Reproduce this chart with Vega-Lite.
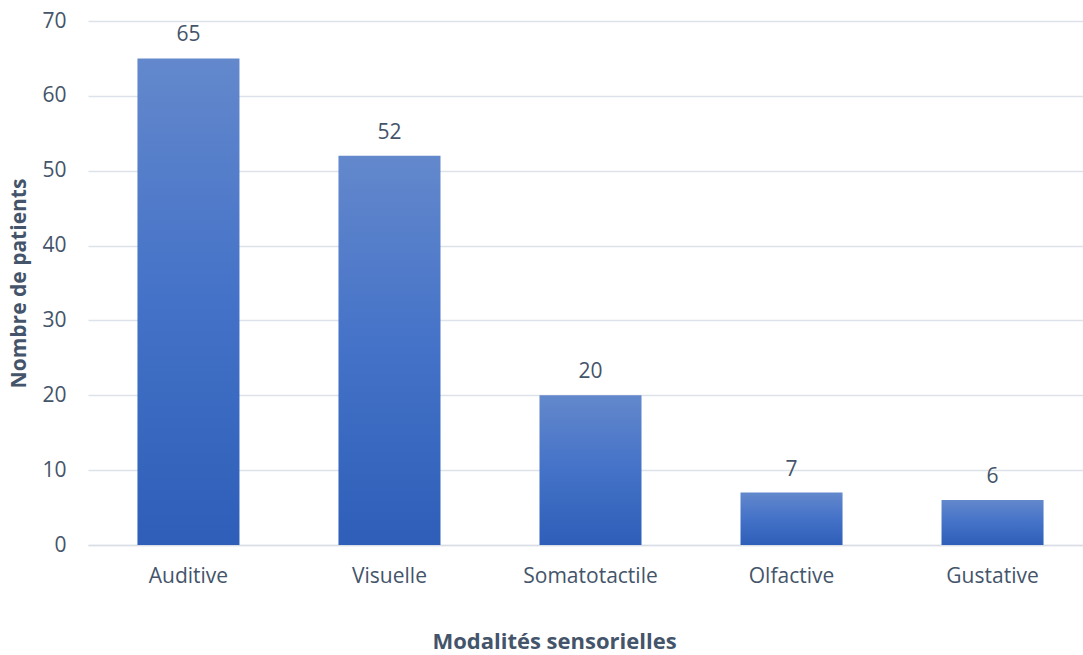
{
  "$schema": "https://vega.github.io/schema/vega-lite/v6.json",
  "width": 992,
  "height": 524,
  "autosize": {"type": "none"},
  "padding": {"left": 88, "top": 21, "right": 3, "bottom": 110},
  "background": "white",
  "config": {
    "view": {"stroke": null},
    "font": "Open Sans"
  },
  "data": {
    "values": [
      {"modalite": "Auditive", "patients": 65},
      {"modalite": "Visuelle", "patients": 52},
      {"modalite": "Somatotactile", "patients": 20},
      {"modalite": "Olfactive", "patients": 7},
      {"modalite": "Gustative", "patients": 6}
    ]
  },
  "encoding": {
    "x": {
      "field": "modalite",
      "type": "nominal",
      "sort": null,
      "scale": {"range": [0, 1005], "paddingInner": 0.4925, "paddingOuter": 0.246},
      "axis": {
        "title": "Modalités sensorielles",
        "titleFont": "Open Sans",
        "titleFontSize": 22,
        "titleFontWeight": "bold",
        "titleColor": "#44546A",
        "titlePadding": 45,
        "titleX": 466,
        "titleAnchor": "middle",
        "labelAngle": 0,
        "labelFontSize": 21,
        "labelColor": "#44546A",
        "labelPadding": 20,
        "ticks": false,
        "domain": true,
        "domainColor": "#D9DDE6",
        "domainWidth": 1.5
      }
    },
    "y": {
      "field": "patients",
      "type": "quantitative",
      "scale": {"domain": [0, 70], "nice": false},
      "axis": {
        "title": "Nombre de patients",
        "titleFont": "Open Sans",
        "titleFontSize": 21,
        "titleFontWeight": "bold",
        "titleColor": "#44546A",
        "titlePadding": 12,
        "values": [0, 10, 20, 30, 40, 50, 60, 70],
        "labelFontSize": 21,
        "labelColor": "#44546A",
        "labelPadding": 22,
        "ticks": false,
        "domain": false,
        "grid": true,
        "gridColor": "#DDE1E9",
        "gridWidth": 1.5
      }
    }
  },
  "layer": [
    {
      "mark": {
        "type": "bar",
        "color": {
          "gradient": "linear",
          "x1": 0, "y1": 0, "x2": 0, "y2": 1,
          "stops": [
            {"offset": 0, "color": "#6388CC"},
            {"offset": 0.5, "color": "#4472C8"},
            {"offset": 1, "color": "#2E5EB8"}
          ]
        }
      }
    },
    {
      "mark": {
        "type": "text",
        "baseline": "bottom",
        "dy": -13,
        "fontSize": 21,
        "color": "#44546A",
        "font": "Open Sans"
      },
      "encoding": {
        "text": {"field": "patients", "type": "quantitative"}
      }
    }
  ]
}
